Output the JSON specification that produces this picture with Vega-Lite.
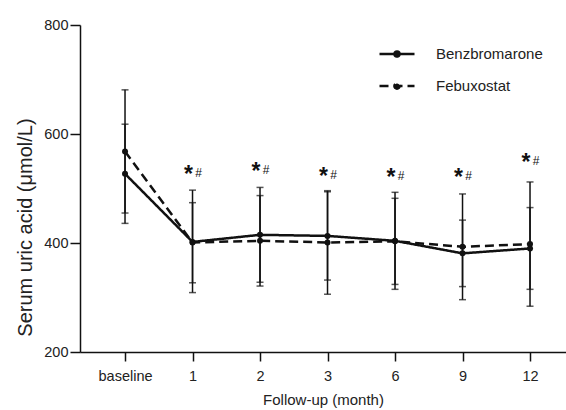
{
  "$schema": "https://vega.github.io/schema/vega-lite/v6.json",
  "autosize": {"type": "none"},
  "padding": {"left": 80, "top": 25, "right": 0, "bottom": 58},
  "width": 486,
  "height": 327,
  "background": "white",
  "config": {
    "view": {"stroke": null},
    "font": "Liberation Sans",
    "axis": {
      "domainColor": "#111",
      "domainWidth": 1.5,
      "tickColor": "#111",
      "tickWidth": 1.5,
      "grid": false,
      "labelFont": "Liberation Sans",
      "labelColor": "#222",
      "titleFont": "Liberation Sans",
      "titleColor": "#222",
      "titleFontWeight": "normal"
    }
  },
  "datasets": {
    "main": [
      {"group": "Benzbromarone", "idx": 0, "mean": 527, "lo": 436, "hi": 618},
      {"group": "Benzbromarone", "idx": 1, "mean": 402, "lo": 309, "hi": 497},
      {"group": "Benzbromarone", "idx": 2, "mean": 415, "lo": 328, "hi": 502},
      {"group": "Benzbromarone", "idx": 3, "mean": 413, "lo": 332, "hi": 494},
      {"group": "Benzbromarone", "idx": 4, "mean": 404, "lo": 315, "hi": 493},
      {"group": "Benzbromarone", "idx": 5, "mean": 381, "lo": 320, "hi": 442},
      {"group": "Benzbromarone", "idx": 6, "mean": 390, "lo": 315, "hi": 465},
      {"group": "Febuxostat", "idx": 0, "mean": 568, "lo": 455, "hi": 681},
      {"group": "Febuxostat", "idx": 1, "mean": 401, "lo": 327, "hi": 474},
      {"group": "Febuxostat", "idx": 2, "mean": 404, "lo": 321, "hi": 487},
      {"group": "Febuxostat", "idx": 3, "mean": 401, "lo": 306, "hi": 496},
      {"group": "Febuxostat", "idx": 4, "mean": 403, "lo": 324, "hi": 482},
      {"group": "Febuxostat", "idx": 5, "mean": 393, "lo": 296, "hi": 490},
      {"group": "Febuxostat", "idx": 6, "mean": 398, "lo": 284, "hi": 512}
    ],
    "marks": [
      {"idx": 1, "y": 534},
      {"idx": 2, "y": 539},
      {"idx": 3, "y": 530},
      {"idx": 4, "y": 528},
      {"idx": 5, "y": 528},
      {"idx": 6, "y": 556}
    ]
  },
  "layer": [
    {
      "data": {"name": "main"},
      "mark": {"type": "errorbar", "color": "#111", "thickness": 1.5, "ticks": {"size": 7, "thickness": 1.5, "color": "#111"}},
      "encoding": {
        "x": {"field": "idx", "type": "quantitative", "title": "Follow-up (month)"},
        "y": {"field": "lo", "type": "quantitative", "title": "Serum uric acid (μmol/L)"},
        "y2": {"field": "hi"},
        "detail": {"field": "group"}
      }
    },
    {
      "data": {"name": "main"},
      "mark": {"type": "line", "color": "#111", "strokeWidth": 2.5},
      "encoding": {
        "x": {
          "field": "idx", "type": "quantitative",
          "title": "Follow-up (month)",
          "scale": {"domain": [-0.667, 6.533], "nice": false, "zero": false},
          "axis": {
            "values": [0, 1, 2, 3, 4, 5, 6],
            "labelExpr": "['baseline','1','2','3','6','9','12'][datum.value]",
            "titleFontSize": 15,
            "titlePadding": 10,
            "labelFontSize": 14.5,
            "tickSize": 9,
            "labelPadding": 8,
            "labelFlush": false
          }
        },
        "y": {
          "field": "mean", "type": "quantitative",
          "title": "Serum uric acid (μmol/L)",
          "scale": {"domain": [200, 800], "nice": false, "zero": false},
          "axis": {
            "values": [200, 400, 600, 800],
            "titleFontSize": 20,
            "titlePadding": 8,
            "titleY": 202,
            "labelFontSize": 14.5,
            "tickSize": 10,
            "labelPadding": 2,
            "labelFlush": false
          }
        },
        "strokeDash": {
          "field": "group", "type": "nominal",
          "scale": {"domain": ["Benzbromarone", "Febuxostat"], "range": [[1, 0], [9, 5]]},
          "legend": {
            "title": null,
            "orient": "none",
            "legendX": 298,
            "legendY": 10,
            "padding": 0,
            "symbolType": "M-1,0L1,0M-0.15,0a0.15,0.15 0 1,0 0.3,0a0.15,0.15 0 1,0 -0.3,0",
            "symbolSize": 1225,
            "symbolStrokeWidth": 2.5,
            "symbolStrokeColor": "#111",
            "symbolFillColor": "#111",
            "labelFontSize": 15,
            "labelColor": "#222",
            "labelOffset": 20,
            "rowPadding": 5,
            "encode": {"symbols": {"update": {"fill": {"value": "#111"}, "stroke": {"value": "#111"}, "opacity": {"value": 1}}}}
          }
        },
        "detail": {"field": "group"}
      }
    },
    {
      "data": {"name": "main"},
      "mark": {"type": "point", "filled": true, "color": "#111", "size": 36, "opacity": 1},
      "encoding": {
        "x": {"field": "idx", "type": "quantitative"},
        "y": {"field": "mean", "type": "quantitative"}
      }
    },
    {
      "data": {"name": "marks"},
      "mark": {"type": "text", "text": "*", "fontSize": 23, "fontWeight": "bold", "color": "#111", "dx": -4, "dy": 5, "baseline": "middle", "align": "center"},
      "encoding": {
        "x": {"field": "idx", "type": "quantitative"},
        "y": {"field": "y", "type": "quantitative"}
      }
    },
    {
      "data": {"name": "marks"},
      "mark": {"type": "text", "text": "#", "fontSize": 12, "color": "#111", "dx": 6, "dy": 3, "baseline": "middle", "align": "center"},
      "encoding": {
        "x": {"field": "idx", "type": "quantitative"},
        "y": {"field": "y", "type": "quantitative"}
      }
    }
  ]
}
